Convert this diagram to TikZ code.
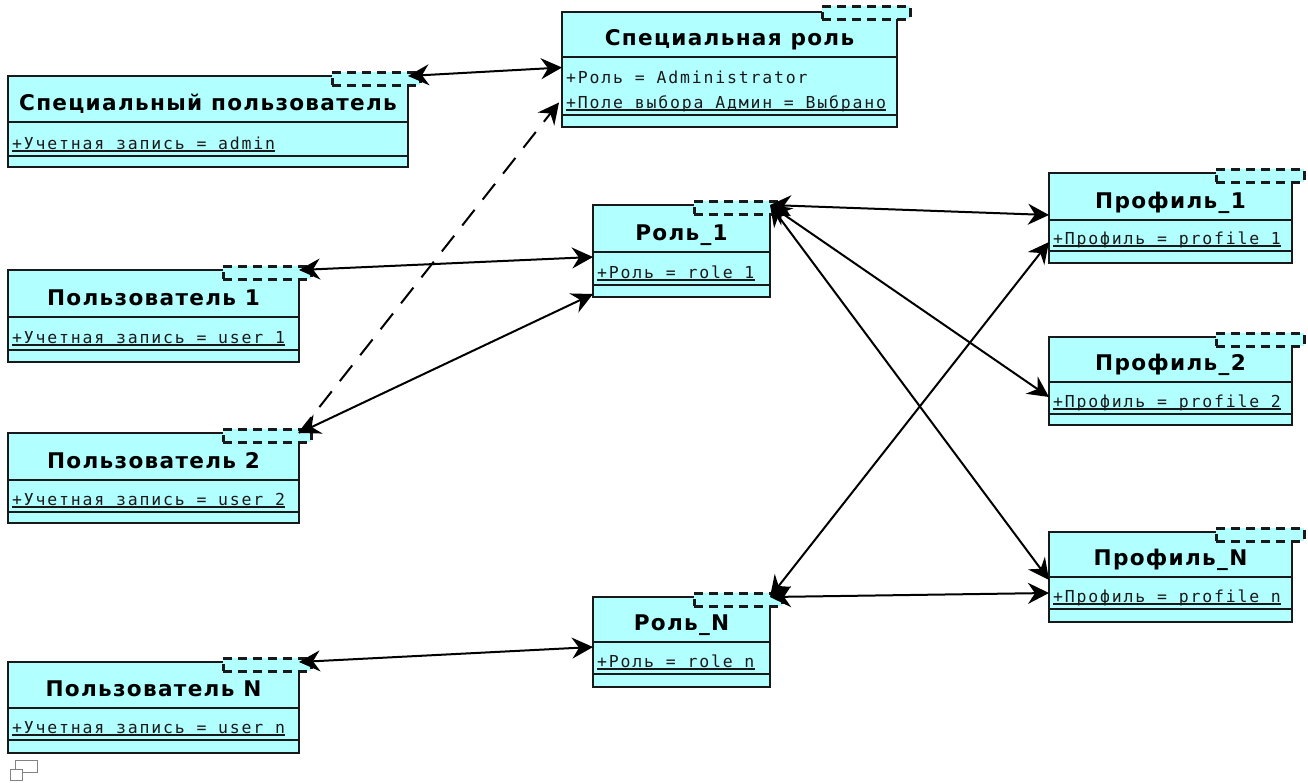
\documentclass[tikz,border=0pt]{standalone}
\usepackage{fontspec}
\usetikzlibrary{arrows.meta}
\newfontfamily\titlefont{DejaVu Sans}[LetterSpace=6]
\newfontfamily\attrfont{DejaVu Sans Mono}[LetterSpace=11]
\definecolor{clsfill}{RGB}{178,255,255}
\definecolor{iconcol}{RGB}{130,130,130}
\tikzset{
  clsbox/.style={draw=black!90, line width=2pt, fill=clsfill, inner sep=0pt, outer sep=0pt},
  divider/.style={draw=black!90, line width=2pt},
  tpl/.style={draw=black!90, line width=3pt, dash pattern=on 9pt off 6pt, fill=clsfill,
              minimum width=88pt, minimum height=13pt, inner sep=0pt, outer sep=0pt},
  titletext/.style={font=\titlefont\bfseries\fontsize{21.6}{25}\selectfont, inner sep=0pt, text=black},
  attrtext/.style={font=\attrfont\fontsize{16.5}{20}\selectfont, inner sep=0pt, text=black!90},
  uline/.style={draw=black!90, line width=1.1pt},
  assoc/.style={draw=black, line width=2pt, {Stealth[length=21pt,width=21pt,inset=7pt]}-{Stealth[length=21pt,width=21pt,inset=7pt]}},
  dep/.style={draw=black, line width=2pt, dash pattern=on 20pt off 13pt, -{Stealth[length=21pt,width=21pt,inset=7pt]}},
  icon/.style={draw=iconcol, line width=1pt, fill=white, inner sep=0pt, outer sep=0pt},
}
% name, left, top, right, bottom, title-divider, attr-divider, title, attribute
\newcommand\umlclass[9]{%
  \node[clsbox, anchor=north west, minimum width={(#4)-(#2)}, minimum height={(#5)-(#3)}] (#1) at (#2,#3) {};
  \draw[divider] (#2,#6) -- (#4,#6);
  \draw[divider] (#2,#7) -- (#4,#7);
  \node[tpl, anchor=north east] (#1-tpl) at ({#4+12},{#3-4}) {};
  \node[titletext, anchor=base] (#1-title) at ({(#2+#4)/2},{#6-12}) {#8};
  \node[attrtext, anchor=base west] (#1-attr) at ({#2+4},{#7-7}) {#9};
  \draw[uline] ([yshift=-2pt]#1-attr.base west) -- ([yshift=-2pt]#1-attr.base east);
}
\begin{document}
\begin{tikzpicture}[x=1pt,y=-1pt]
\useasboundingbox (0,0) rectangle (1308,782);

% Special user
\umlclass{su}{8}{76}{408}{167}{122}{156}{Специальный пользователь}{+Учетная запись = admin}

% Special role (two attributes)
\node[clsbox, anchor=north west, minimum width=335, minimum height=115] (sr) at (562,12) {};
\draw[divider] (562,57) -- (897,57);
\draw[divider] (562,115) -- (897,115);
\node[tpl, anchor=north east] (sr-tpl) at (910,6) {};
\node[titletext, anchor=base] (sr-title) at (729.5,45) {Специальная роль};
\node[attrtext, anchor=base west] (sr-attr1) at (566,83) {+Роль = Administrator};
\node[attrtext, anchor=base west] (sr-attr2) at (566,108) {+Поле выбора Админ = Выбрано};
\draw[uline] ([yshift=-2pt]sr-attr2.base west) -- ([yshift=-2pt]sr-attr2.base east);

% Users
\umlclass{u1}{8}{270}{299}{362}{317}{350}{Пользователь 1}{+Учетная запись = user 1}
\umlclass{u2}{8}{433}{299}{523}{480}{512}{Пользователь 2}{+Учетная запись = user 2}
\umlclass{uN}{8}{662}{299}{753}{708}{740}{Пользователь N}{+Учетная запись = user n}

% Roles
\umlclass{r1}{593}{205}{770}{297}{252}{285}{Роль\_1}{+Роль = role 1}
\umlclass{rN}{593}{597}{770}{687}{642}{674}{Роль\_N}{+Роль = role n}

% Profiles
\umlclass{p1}{1049}{173}{1292}{263}{220}{251}{Профиль\_1}{+Профиль = profile 1}
\umlclass{p2}{1049}{337}{1292}{425}{382}{414}{Профиль\_2}{+Профиль = profile 2}
\umlclass{pN}{1049}{532}{1292}{622}{577}{609}{Профиль\_N}{+Профиль = profile n}

% Connectors
\draw[assoc] (su.north east) -- ([yshift=2pt]sr.west);
\draw[dep] (u2.north east) -- ([xshift=-3pt,yshift=-33pt]sr.west);
\draw[assoc] (u1.north east) -- ([yshift=-6pt]r1.west);
\draw[assoc] (u2.north east) -- ([yshift=3pt]r1.south west);
\draw[assoc] (uN.north east) -- ([yshift=-5pt]rN.west);
\draw[assoc] (r1.north east) -- ([yshift=3pt]p1.west);
\draw[assoc] (r1.north east) -- ([yshift=-16pt]p2.west);
\draw[assoc] (r1.north east) -- ([yshift=-3pt]pN.west);
\draw[assoc] (rN.north east) -- ([yshift=-16pt]pN.west);
\draw[assoc] (rN.north east) -- ([yshift=-24pt]p1.west);

% small icon bottom-left
\node[icon, anchor=north west, minimum width=22, minimum height=12] (icon-a) at (15,760) {};
\node[icon, anchor=north west, minimum width=12, minimum height=11] (icon-b) at (10,769) {};
\end{tikzpicture}
\end{document}
